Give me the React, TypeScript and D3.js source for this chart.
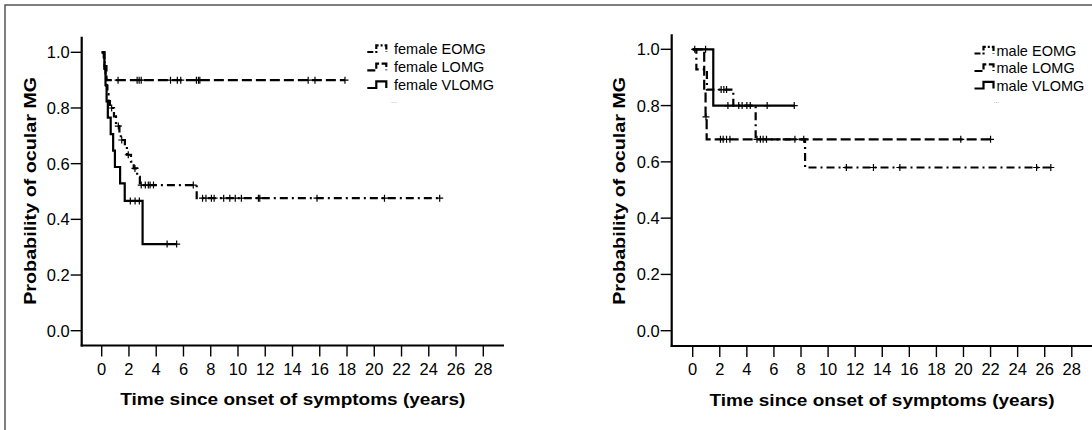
import * as d3 from "d3";

// tick values
const yTicks = [0, 0.2, 0.4, 0.6, 0.8, 1.0];
const xTicks = [0, 2, 4, 6, 8, 10, 12, 14, 16, 18, 20, 22, 24, 26, 28];

// female panel: [time, survival] after each event, censor times, last follow-up
const femaleEOMGSteps = [
  [0.15, 0.97], [0.22, 0.94], [0.28, 0.91], [0.34, 0.88], [0.42, 0.85], [0.5, 0.825],
  [0.6, 0.8], [0.9, 0.77], [1.05, 0.735], [1.3, 0.71], [1.4, 0.685], [1.7, 0.66],
  [1.85, 0.632], [2.15, 0.607], [2.35, 0.583], [2.6, 0.553], [2.8, 0.523], [6.97, 0.476],
];
const femaleEOMGCensored = [
  0.73, 1.22, 1.47, 1.95, 2.44, 2.9, 3.2, 3.42, 3.55, 3.8, 6.72, 7.4, 7.65, 8.05, 8.25,
  8.95, 9.4, 9.8, 10.25, 11.5, 11.6, 15.8, 20.75, 24.8,
];
const femaleLOMGSteps = [[0.2, 0.95], [0.35, 0.9]];
const femaleLOMGCensored = [1.2, 2.6, 2.75, 2.9, 5.05, 5.55, 5.8, 6.95, 7.1, 7.2, 15.15, 15.65, 17.85];
const femaleVLOMGSteps = [
  [0.2, 0.941], [0.28, 0.882], [0.36, 0.824], [0.45, 0.765], [0.66, 0.706], [0.84, 0.647],
  [0.97, 0.588], [1.35, 0.529], [1.69, 0.466], [3.0, 0.311],
];
const femaleVLOMGCensored = [2.1, 2.45, 2.76, 4.8, 5.5];

// male panel
const maleEOMGSteps = [[0.27, 0.929], [1.05, 0.857], [3.0, 0.8], [4.65, 0.68], [8.3, 0.58]];
const maleEOMGCensored = [0.15, 2.1, 2.3, 2.5, 5.2, 5.45, 7.55, 8.2, 11.35, 13.35, 15.3, 25.4, 26.45];
const maleLOMGSteps = [[0.85, 0.85], [0.95, 0.76], [1.03, 0.68]];
const maleLOMGCensored = [0.98, 2.05, 2.25, 2.5, 2.75, 4.75, 5.0, 19.8, 22.0];
const maleVLOMGSteps = [[1.52, 0.8]];
const maleVLOMGCensored = [0.95, 2.6, 3.4, 3.65, 4.0, 4.25, 5.5, 7.5];

const femaleLabels = ["female EOMG", "female LOMG", "female VLOMG"];
const maleLabels = ["male EOMG", "male LOMG", "male VLOMG"];

const FONT = "'Liberation Sans', Arial, sans-serif";
const dashes = ["8,4,2,4", "10,4", null];

const panels = [
  {
    labels: femaleLabels,
    series: [
      { steps: femaleEOMGSteps, censored: femaleEOMGCensored, end: 24.8 },
      { steps: femaleLOMGSteps, censored: femaleLOMGCensored, end: 17.85 },
      { steps: femaleVLOMGSteps, censored: femaleVLOMGCensored, end: 5.5 },
    ],
    x: [101.7, 483.3], y: [330.7, 52.3], axisX: 81.7, axisTop: 36.7, axisY: 345.5, axisEnd: 504,
    yTitle: [29.6, 190.8], xTitle: [292.8, 405], legX: 367.3, legTextX: 394, legY: [54, 72.3, 90],
  },
  {
    labels: maleLabels,
    series: [
      { steps: maleEOMGSteps, censored: maleEOMGCensored, end: 26.45 },
      { steps: maleLOMGSteps, censored: maleLOMGCensored, end: 22.05 },
      { steps: maleVLOMGSteps, censored: maleVLOMGCensored, end: 7.5 },
    ],
    x: [692.7, 1071.8], y: [330.7, 49.3], axisX: 671.7, axisTop: 34.3, axisY: 346, axisEnd: 1095,
    yTitle: [619.1, 190.8], xTitle: [882, 406], legX: 974.5, legTextX: 996.5, legY: [55.5, 73, 90.5],
  },
];

function survivalAt(steps, t) {
  let p = 1;
  for (const [st, sp] of steps) if (st <= t) p = sp;
  return p;
}

function Panel({ p }) {
  const x = d3.scaleLinear().domain([0, 28]).range(p.x);
  const y = d3.scaleLinear().domain([0, 1]).range(p.y);
  const line = d3.line().x((d) => x(d[0])).y((d) => y(d[1])).curve(d3.curveStepAfter);

  return (
    <g>
      {/* axes */}
      <line x1={p.axisX} x2={p.axisX} y1={p.axisTop} y2={p.axisY + 1} stroke="#000" strokeWidth={2.2} />
      <line x1={p.axisX - 1} x2={p.axisEnd} y1={p.axisY} y2={p.axisY} stroke="#000" strokeWidth={2.2} />
      {yTicks.map((t) => (
        <g key={t}>
          <line x1={p.axisX - 11} x2={p.axisX} y1={y(t)} y2={y(t)} stroke="#000" strokeWidth={1.4} />
          <text x={p.axisX - 12} y={y(t)} dy="0.36em" textAnchor="end" fontSize={16.5} fontFamily={FONT}>
            {d3.format(".1f")(t)}
          </text>
        </g>
      ))}
      {xTicks.map((t) => (
        <g key={t}>
          <line x1={x(t)} x2={x(t)} y1={p.axisY} y2={p.axisY + 11} stroke="#000" strokeWidth={1.4} />
          <text x={x(t)} y={p.axisY + 29} textAnchor="middle" fontSize={16.5} fontFamily={FONT}>
            {t}
          </text>
        </g>
      ))}
      <text
        transform={`translate(${p.yTitle[0]},${p.yTitle[1]}) rotate(-90)`}
        textAnchor="middle" dy="0.36em" fontSize={16.5} fontWeight="bold" fontFamily={FONT}
        textLength={228} lengthAdjust="spacingAndGlyphs"
      >
        Probability of ocular MG
      </text>
      <text
        x={p.xTitle[0]} y={p.xTitle[1]} textAnchor="middle" fontSize={16.5} fontWeight="bold"
        fontFamily={FONT} textLength={345} lengthAdjust="spacingAndGlyphs"
      >
        Time since onset of symptoms (years)
      </text>

      {/* curves */}
      {p.series.map((s, i) => {
        const last = s.steps[s.steps.length - 1][1];
        const pts = [[0, 1], ...s.steps, [s.end, last]];
        return (
          <g key={i}>
            <path d={line(pts)} fill="none" stroke="#000" strokeWidth={2.2}
              strokeDasharray={dashes[i] || undefined} />
            {s.censored.map((c, j) => {
              const cx = x(c);
              const cy = y(survivalAt(s.steps, c));
              return (
                <path key={j} d={`M${cx - 3.5},${cy}H${cx + 3.5}M${cx},${cy - 3.5}V${cy + 3.5}`}
                  stroke="#000" strokeWidth={1.2} fill="none" />
              );
            })}
          </g>
        );
      })}

      {/* legend */}
      {p.labels.map((lab, i) => {
        const b = p.legY[i];
        const yb = b - 2;
        const yt = b - 8.7;
        return (
          <g key={lab}>
            <path d={`M${p.legX},${yb}H${p.legX + 9}V${yt}H${p.legX + 19}V${yb}`} fill="none"
              stroke="#000" strokeWidth={2.2} strokeDasharray={i === 0 ? "6,2,2,2" : i === 1 ? "8,2.5" : undefined} />
            <text x={p.legTextX} y={b} fontSize={14.5} fontFamily={FONT}>{lab}</text>
          </g>
        );
      })}
      <text x={p.legTextX - 3} y={103} fontSize={7} fill="#999" fontFamily={FONT}>...</text>
    </g>
  );
}

export default function App() {
  return (
    <div>
      <style>{`body{margin:0}`}</style>
      <svg width={1092} height={430} style={{ display: "block", background: "#fff" }}>
        <rect x={5} y={5} width={1200} height={600} fill="none" stroke="#555" strokeWidth={1.5} />
        {panels.map((p, i) => (
          <Panel key={i} p={p} />
        ))}
      </svg>
    </div>
  );
}
